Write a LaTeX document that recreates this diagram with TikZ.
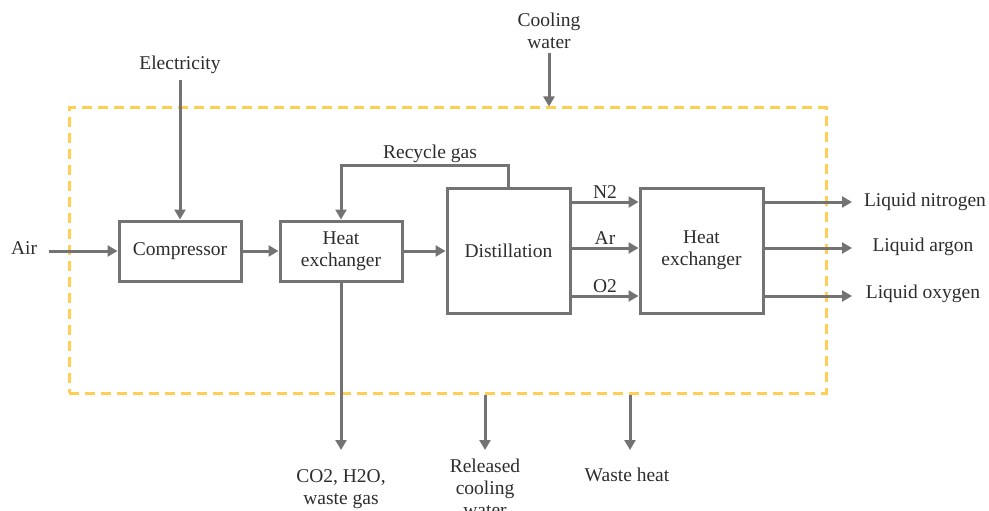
\documentclass[tikz,border=0pt]{standalone}
\usepackage{fontspec}
\setmainfont{Liberation Serif}
\usepackage{tikz}
\usetikzlibrary{arrows.meta, positioning, calc}
\usepackage{xcolor}
\definecolor{linegray}{RGB}{115,115,115}
\definecolor{textgray}{RGB}{45,45,45}
\definecolor{bordery}{RGB}{255,206,84}

\begin{document}
\begin{tikzpicture}[x=1pt, y=-1pt,
  block/.style={draw=linegray, line width=3pt, fill=white, text=textgray, align=center},
  flow/.style={draw=linegray, line width=3pt, -{Triangle[length=10pt, width=11pt]}},
  lbl/.style={text=textgray, align=center, inner sep=2pt},
  boundary/.style={draw=bordery, line width=3pt, dash pattern=on 10pt off 6pt}]
  \useasboundingbox (0,0) rectangle (989,511);
  \fontsize{19.5}{22}\selectfont

  % plant boundary
  \node[boundary, minimum width=757pt, minimum height=285pt] (plant) at (447.5,250.5) {};

  % process units
  \node[block, minimum width=122pt, minimum height=60pt] (comp) at (180,251) {Compressor};
  \node[block, minimum width=122pt, minimum height=60pt] (hx1) at (341,251) {Heat\\exchanger};
  \node[block, minimum width=123pt, minimum height=125pt] (dist) at (508.5,250.5) {Distillation};
  \node[block, minimum width=123pt, minimum height=125pt] (hx2) at (701.5,250.5) {Heat\\exchanger};

  % external streams
  \node[lbl] (air) at (24,248) {Air};
  \node[lbl] (elec) at (180,65) {Electricity};
  \node[lbl] (cool) at (549,31) {Cooling\\water};
  \node[lbl, anchor=north] (waste) at (341,467) {CO2, H2O,\\waste gas};
  \node[lbl, anchor=north] (rel) at (485,457) {Released\\cooling\\water};
  \node[lbl] (heat) at (627,475) {Waste heat};
  \node[lbl] (ln) at (925,202) {Liquid nitrogen};
  \node[lbl] (la) at (923,247) {Liquid argon};
  \node[lbl] (lo) at (923,294) {Liquid oxygen};

  \coordinate (rowN) at (0,202);
  \coordinate (rowA) at (0,248);
  \coordinate (rowO) at (0,296);
  \coordinate (outEnd) at (852,0);
  \coordinate (recTop) at (508,165);
  \coordinate (botEnd) at (0,450);
  \coordinate (heatX) at (630,0);

  % main line
  \draw[flow, shorten <=10pt] (air.east |- comp) -- (comp.west);
  \draw[flow, shorten <=4pt] (elec.south) -- (comp.north);
  \draw[flow] (comp.east) -- (hx1.west);
  \draw[flow] (hx1.east) -- (hx1.east -| dist.west);
  \draw[flow] (dist.north -| recTop) -- (recTop) -| (hx1.north);
  \node[lbl, above] at (430,165) {Recycle gas};

  % products
  \draw[flow] (dist.east |- rowN) -- node[lbl, above] {N2} (hx2.west |- rowN);
  \draw[flow] (dist.east |- rowA) -- node[lbl, above] {Ar} (hx2.west |- rowA);
  \draw[flow] (dist.east |- rowO) -- node[lbl, above] {O2} (hx2.west |- rowO);
  \draw[flow] (hx2.east |- rowN) -- (outEnd |- rowN);
  \draw[flow] (hx2.east |- rowA) -- (outEnd |- rowA);
  \draw[flow] (hx2.east |- rowO) -- (outEnd |- rowO);

  % utilities
  \draw[flow, shorten <=2pt] (cool.south) -- (cool.south |- plant.north);
  \draw[flow] (hx1.south) -- (hx1.south |- botEnd);
  \draw[flow] (plant.south -| rel) -- (rel |- botEnd);
  \draw[flow] (plant.south -| heatX) -- (heatX |- botEnd);
\end{tikzpicture}
\end{document}
